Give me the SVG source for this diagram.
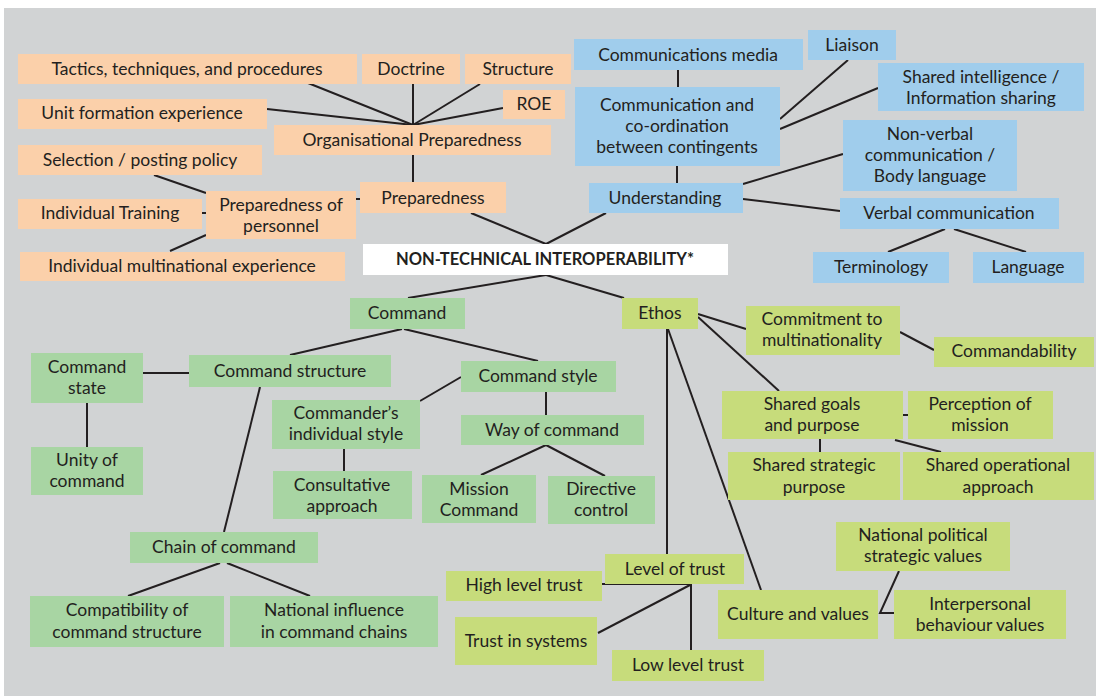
<svg xmlns="http://www.w3.org/2000/svg" width="1096" height="696" viewBox="0 0 1096 696">
<style>
.o{fill:#fbd0aa}.b{fill:#a0cdec}.g{fill:#a8d5a3}.y{fill:#c7dc7b}.w{fill:#ffffff}
text{font-family:Lato,"Liberation Sans",sans-serif;font-size:17.5px;fill:#231f20;text-anchor:middle;dominant-baseline:central}
.bold{font-weight:bold;font-size:16.5px}
#connectors line,#connectors polyline{stroke:#231f20;stroke-width:2;fill:none}
</style>
<rect x="0" y="0" width="1096" height="696" fill="#ffffff"/>
<rect x="4" y="8" width="1092" height="688" fill="#d1d3d4"/>
<g id="connectors">
<line x1="308" y1="83" x2="413" y2="125"/>
<line x1="413" y1="83" x2="413" y2="125"/>
<line x1="480" y1="84" x2="413" y2="125"/>
<line x1="503" y1="108" x2="413" y2="125"/>
<line x1="267" y1="109" x2="413" y2="125"/>
<line x1="413" y1="155" x2="413" y2="182"/>
<line x1="154" y1="175" x2="206" y2="193"/>
<line x1="202" y1="213" x2="206" y2="213"/>
<line x1="170" y1="251" x2="206" y2="235"/>
<line x1="356" y1="199" x2="360" y2="199"/>
<line x1="471" y1="213" x2="546" y2="244"/>
<line x1="678" y1="70" x2="678" y2="87"/>
<line x1="848" y1="60" x2="780" y2="119"/>
<line x1="878" y1="88" x2="780" y2="129"/>
<line x1="677" y1="166" x2="677" y2="183"/>
<line x1="843" y1="154" x2="743" y2="184"/>
<line x1="840" y1="211" x2="743" y2="199"/>
<line x1="606" y1="213" x2="546" y2="244"/>
<line x1="945" y1="229" x2="888" y2="252"/>
<line x1="954" y1="229" x2="1026" y2="252"/>
<line x1="546" y1="275" x2="408" y2="298"/>
<line x1="546" y1="275" x2="624" y2="298"/>
<line x1="402" y1="329" x2="290" y2="355"/>
<line x1="404" y1="329" x2="538" y2="361"/>
<line x1="143" y1="373" x2="189" y2="373"/>
<line x1="87" y1="403" x2="87" y2="447"/>
<line x1="260" y1="387" x2="224" y2="532"/>
<line x1="344" y1="449" x2="344" y2="471"/>
<line x1="420" y1="401" x2="461" y2="377"/>
<line x1="546" y1="392" x2="546" y2="415"/>
<line x1="546" y1="445" x2="481" y2="475"/>
<line x1="546" y1="445" x2="605" y2="476"/>
<line x1="220" y1="563" x2="128" y2="596"/>
<line x1="227" y1="563" x2="310" y2="596"/>
<line x1="698" y1="314" x2="746" y2="329"/>
<line x1="900" y1="332" x2="934" y2="350"/>
<line x1="698" y1="317" x2="779" y2="391"/>
<line x1="667" y1="329" x2="667" y2="554"/>
<line x1="668" y1="329" x2="761" y2="590"/>
<line x1="903" y1="415" x2="908" y2="415"/>
<line x1="820" y1="439" x2="820" y2="452"/>
<line x1="895" y1="440" x2="941" y2="452"/>
<line x1="602" y1="584" x2="690" y2="584"/>
<line x1="598" y1="633" x2="690" y2="585"/>
<line x1="691" y1="584" x2="691" y2="650"/>
<polyline points="899,571 880,613 894,613"/>
</g>
<g id="tactics"><rect class="o" x="18" y="54" width="339" height="30"/><text x="187" y="68.5">Tactics, techniques, and procedures</text></g>
<g id="doctrine"><rect class="o" x="362" y="54" width="98" height="30"/><text x="411" y="68.5">Doctrine</text></g>
<g id="structure"><rect class="o" x="465" y="54" width="106" height="30"/><text x="518" y="68.5">Structure</text></g>
<g id="roe"><rect class="o" x="503" y="90" width="62" height="29"/><text x="534" y="103.5">ROE</text></g>
<g id="unit-formation"><rect class="o" x="18" y="99" width="249" height="30"/><text x="142" y="112.5">Unit formation experience</text></g>
<g id="org-preparedness"><rect class="o" x="274" y="125" width="277" height="30"/><text x="412" y="139.5">Organisational Preparedness</text></g>
<g id="selection"><rect class="o" x="18" y="145" width="244" height="30"/><text x="140" y="159.5">Selection / posting policy</text></g>
<g id="individual-training"><rect class="o" x="18" y="199" width="184" height="30"/><text x="110" y="212.5">Individual Training</text></g>
<g id="preparedness-personnel"><rect class="o" x="206" y="191" width="150" height="48"/><text x="281" y="204.5">Preparedness of</text><text x="281" y="225.5">personnel</text></g>
<g id="preparedness"><rect class="o" x="360" y="182" width="146" height="31"/><text x="433" y="197.5">Preparedness</text></g>
<g id="individual-multinational"><rect class="o" x="20" y="252" width="325" height="29"/><text x="182" y="265.5">Individual multinational experience</text></g>
<g id="nti"><rect class="w" x="363" y="244" width="365" height="31"/><text class="bold" x="545" y="258.5">NON-TECHNICAL INTEROPERABILITY*</text></g>
<g id="comm-media"><rect class="b" x="574" y="39" width="229" height="31"/><text x="688" y="54.5">Communications media</text></g>
<g id="liaison"><rect class="b" x="808" y="30" width="88" height="30"/><text x="852" y="44.5">Liaison</text></g>
<g id="shared-intel"><rect class="b" x="878" y="63" width="206" height="48"/><text x="981" y="76.5">Shared intelligence /</text><text x="981" y="97.5">Information sharing</text></g>
<g id="comm-coord"><rect class="b" x="575" y="87" width="205" height="79"/><text x="677" y="104.5">Communication and</text><text x="677" y="125.5">co-ordination</text><text x="677" y="146.5">between contingents</text></g>
<g id="non-verbal"><rect class="b" x="843" y="120" width="174" height="71"/><text x="930" y="133.5">Non-verbal</text><text x="930" y="154.5">communication /</text><text x="930" y="175.5">Body language</text></g>
<g id="understanding"><rect class="b" x="589" y="183" width="154" height="30"/><text x="665" y="197.5">Understanding</text></g>
<g id="verbal"><rect class="b" x="840" y="198" width="219" height="31"/><text x="949" y="212.5">Verbal communication</text></g>
<g id="terminology"><rect class="b" x="813" y="252" width="136" height="31"/><text x="881" y="266.5">Terminology</text></g>
<g id="language"><rect class="b" x="973" y="252" width="111" height="31"/><text x="1028" y="266.5">Language</text></g>
<g id="command"><rect class="g" x="350" y="298" width="115" height="31"/><text x="407" y="312.5">Command</text></g>
<g id="command-state"><rect class="g" x="31" y="353" width="112" height="50"/><text x="87" y="366.5">Command</text><text x="87" y="387.5">state</text></g>
<g id="command-structure"><rect class="g" x="189" y="355" width="202" height="32"/><text x="290" y="370.5">Command structure</text></g>
<g id="command-style"><rect class="g" x="461" y="361" width="155" height="31"/><text x="538" y="375.5">Command style</text></g>
<g id="commanders-style"><rect class="g" x="272" y="400" width="148" height="49"/><text x="346" y="412.5">Commander’s</text><text x="346" y="433.5">individual style</text></g>
<g id="way-of-command"><rect class="g" x="461" y="415" width="183" height="30"/><text x="552" y="429.5">Way of command</text></g>
<g id="unity"><rect class="g" x="31" y="447" width="112" height="48"/><text x="87" y="459.5">Unity of</text><text x="87" y="480.5">command</text></g>
<g id="consultative"><rect class="g" x="273" y="471" width="139" height="48"/><text x="342" y="484.5">Consultative</text><text x="342" y="505.5">approach</text></g>
<g id="mission-command"><rect class="g" x="422" y="475" width="114" height="48"/><text x="479" y="488.5">Mission</text><text x="479" y="509.5">Command</text></g>
<g id="directive"><rect class="g" x="548" y="476" width="107" height="48"/><text x="601" y="488.5">Directive</text><text x="601" y="509.5">control</text></g>
<g id="chain"><rect class="g" x="130" y="532" width="188" height="31"/><text x="224" y="546.5">Chain of command</text></g>
<g id="compatibility"><rect class="g" x="30" y="596" width="194" height="51"/><text x="127" y="609.5">Compatibility of</text><text x="127" y="631.5">command structure</text></g>
<g id="national-influence"><rect class="g" x="230" y="596" width="208" height="51"/><text x="334" y="609.5">National influence</text><text x="334" y="631.5">in command chains</text></g>
<g id="ethos"><rect class="y" x="622" y="298" width="76" height="31"/><text x="660" y="312.5">Ethos</text></g>
<g id="commitment"><rect class="y" x="746" y="306" width="154" height="49"/><text x="822" y="318.5">Commitment to</text><text x="822" y="339.5">multinationality</text></g>
<g id="commandability"><rect class="y" x="934" y="337" width="160" height="30"/><text x="1014" y="350.5">Commandability</text></g>
<g id="shared-goals"><rect class="y" x="722" y="391" width="181" height="48"/><text x="812" y="403.5">Shared goals</text><text x="812" y="424.5">and purpose</text></g>
<g id="perception"><rect class="y" x="908" y="391" width="145" height="48"/><text x="980" y="403.5">Perception of</text><text x="980" y="424.5">mission</text></g>
<g id="shared-strategic"><rect class="y" x="728" y="452" width="172" height="48"/><text x="814" y="464.5">Shared strategic</text><text x="814" y="486.5">purpose</text></g>
<g id="shared-operational"><rect class="y" x="903" y="452" width="191" height="48"/><text x="998" y="464.5">Shared operational</text><text x="998" y="486.5">approach</text></g>
<g id="national-political"><rect class="y" x="836" y="522" width="174" height="49"/><text x="923" y="534.5">National political</text><text x="923" y="555.5">strategic values</text></g>
<g id="level-of-trust"><rect class="y" x="605" y="554" width="139" height="30"/><text x="675" y="568.5">Level of trust</text></g>
<g id="high-trust"><rect class="y" x="446" y="571" width="156" height="30"/><text x="524" y="584.5">High level trust</text></g>
<g id="culture"><rect class="y" x="718" y="590" width="160" height="49"/><text x="798" y="613.5">Culture and values</text></g>
<g id="interpersonal"><rect class="y" x="894" y="590" width="172" height="49"/><text x="980" y="603.5">Interpersonal</text><text x="980" y="624.5">behaviour values</text></g>
<g id="trust-systems"><rect class="y" x="455" y="617" width="142" height="48"/><text x="526" y="640.5">Trust in systems</text></g>
<g id="low-trust"><rect class="y" x="612" y="650" width="152" height="31"/><text x="688" y="664.5">Low level trust</text></g>
</svg>
